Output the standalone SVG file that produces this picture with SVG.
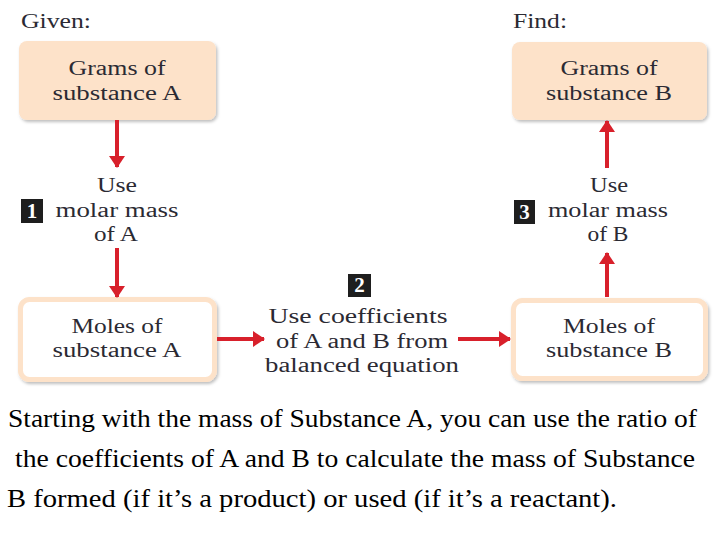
<svg xmlns="http://www.w3.org/2000/svg" width="720" height="540" viewBox="0 0 720 540">
<defs>
<style>
.lbl{font-family:'Liberation Serif','Times New Roman',serif;font-size:20.5px;fill:#2b2a33;text-anchor:middle}
.hdr{font-family:'Liberation Serif','Times New Roman',serif;font-size:20px;fill:#2b2a33}
.cap{font-family:'Liberation Serif','Times New Roman',serif;font-size:25px;fill:#000}
.num{font-family:'Liberation Serif','Times New Roman',serif;font-size:21px;font-weight:bold;fill:#fff;text-anchor:middle}
.grams{fill:#fde2c9}
.moles{fill:#fff;stroke:#fde2c9;stroke-width:5}
.arr{stroke:#d8202b;stroke-width:4;fill:none}
</style>
<filter id="sh" x="-10%" y="-10%" width="130%" height="140%">
<feDropShadow dx="1.5" dy="2" stdDeviation="1.5" flood-color="#000" flood-opacity="0.25"/>
</filter>
<marker id="ah" viewBox="0 0 12 16" refX="11" refY="8" markerWidth="12" markerHeight="16" markerUnits="userSpaceOnUse" orient="auto">
<path d="M0,0 L12,8 L0,16 Z" fill="#d8202b"/>
</marker>
</defs>
<rect width="720" height="540" fill="#fff"/>
<text class="hdr" x="21" y="28" textLength="70" lengthAdjust="spacingAndGlyphs">Given:</text>
<text class="hdr" x="513" y="28" textLength="54" lengthAdjust="spacingAndGlyphs">Find:</text>

<g id="gramsA">
<rect class="grams" x="19" y="41" width="197" height="79" rx="8" filter="url(#sh)"/>
<text class="lbl" x="117" y="75" textLength="97" lengthAdjust="spacingAndGlyphs">Grams of</text>
<text class="lbl" x="117" y="100" textLength="129" lengthAdjust="spacingAndGlyphs">substance A</text>
</g>
<g id="gramsB">
<rect class="grams" x="512" y="42" width="195" height="78" rx="8" filter="url(#sh)"/>
<text class="lbl" x="609" y="75" textLength="97" lengthAdjust="spacingAndGlyphs">Grams of</text>
<text class="lbl" x="609" y="100" textLength="126" lengthAdjust="spacingAndGlyphs">substance B</text>
</g>
<g id="molesA">
<rect class="moles" x="20.5" y="299.5" width="194" height="80" rx="9" filter="url(#sh)"/>
<text class="lbl" x="117" y="333" textLength="91" lengthAdjust="spacingAndGlyphs">Moles of</text>
<text class="lbl" x="117" y="357" textLength="129" lengthAdjust="spacingAndGlyphs">substance A</text>
</g>
<g id="molesB">
<rect class="moles" x="513.5" y="300.5" width="192" height="78" rx="9" filter="url(#sh)"/>
<text class="lbl" x="609" y="333" textLength="92" lengthAdjust="spacingAndGlyphs">Moles of</text>
<text class="lbl" x="609" y="357" textLength="126" lengthAdjust="spacingAndGlyphs">substance B</text>
</g>
<g id="step1">
<rect x="21" y="199" width="22" height="24" fill="#1e1e1e"/>
<text class="num" x="32" y="218">1</text>
<text class="lbl" x="117" y="192" textLength="40" lengthAdjust="spacingAndGlyphs">Use</text>
<text class="lbl" x="117" y="217" textLength="123" lengthAdjust="spacingAndGlyphs">molar mass</text>
<text class="lbl" x="116" y="241" textLength="44" lengthAdjust="spacingAndGlyphs">of A</text>
</g>
<g id="step2">
<rect x="348" y="274" width="23" height="23" fill="#1e1e1e"/>
<text class="num" x="359.5" y="292">2</text>
<text class="lbl" x="358" y="323" textLength="179" lengthAdjust="spacingAndGlyphs">Use coefficients</text>
<text class="lbl" x="362" y="348" textLength="172" lengthAdjust="spacingAndGlyphs">of A and B from</text>
<text class="lbl" x="362" y="372" textLength="194" lengthAdjust="spacingAndGlyphs">balanced equation</text>
</g>
<g id="step3">
<rect x="514" y="200" width="21" height="24" fill="#1e1e1e"/>
<text class="num" x="524.5" y="219">3</text>
<text class="lbl" x="609" y="192" textLength="38" lengthAdjust="spacingAndGlyphs">Use</text>
<text class="lbl" x="608" y="217" textLength="120" lengthAdjust="spacingAndGlyphs">molar mass</text>
<text class="lbl" x="608" y="241" textLength="41" lengthAdjust="spacingAndGlyphs">of B</text>
</g>
<g id="connectors">
<line class="arr" x1="117" y1="120" x2="117" y2="167" marker-end="url(#ah)"/>
<line class="arr" x1="117" y1="248" x2="117" y2="297" marker-end="url(#ah)"/>
<line class="arr" x1="607" y1="297" x2="607" y2="253" marker-end="url(#ah)"/>
<line class="arr" x1="607" y1="168" x2="607" y2="121" marker-end="url(#ah)"/>
<line class="arr" x1="217" y1="339" x2="264" y2="339" marker-end="url(#ah)"/>
<line class="arr" x1="458" y1="339" x2="510" y2="339" marker-end="url(#ah)"/>
</g>
<g id="caption">
<text class="cap" x="8" y="427" textLength="689" lengthAdjust="spacingAndGlyphs">Starting with the mass of Substance A, you can use the ratio of</text>
<text class="cap" x="15" y="467" textLength="680" lengthAdjust="spacingAndGlyphs">the coefficients of A and B to calculate the mass of Substance</text>
<text class="cap" x="7" y="507" textLength="610" lengthAdjust="spacingAndGlyphs">B formed (if it’s a product) or used (if it’s a reactant).</text>
</g>
</svg>
